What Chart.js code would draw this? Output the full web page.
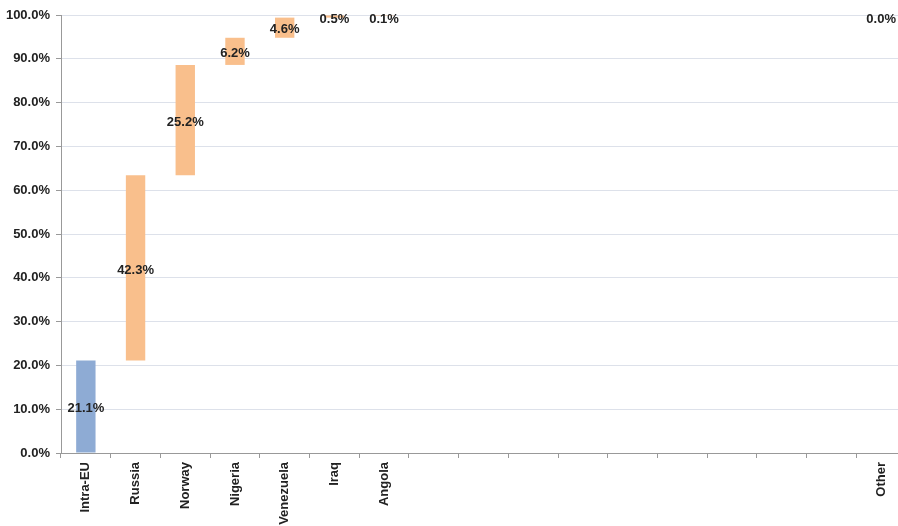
<!DOCTYPE html>
<html>
<head>
<meta charset="utf-8">
<script src="https://cdn.jsdelivr.net/npm/chart.js@4/dist/chart.umd.min.js"></script>
<style>
  html, body { margin: 0; padding: 0; background: #fff; overflow: hidden; }
  #wrap { width: 898px; height: 526px; overflow: hidden; }
</style>
</head>
<body>
<div id="wrap"><canvas id="chart" width="906" height="526"></canvas></div>
<script>
// supplier shares (%), waterfall to 100%
const categories = ['Intra-EU', 'Russia', 'Norway', 'Nigeria', 'Venezuela', 'Iraq', 'Angola',
  '', '', '', '', '', '', '', '', '', 'Other'];
const shares = [21.1, 42.3, 25.2, 6.2, 4.6, 0.5, 0.1,
  null, null, null, null, null, null, null, null, null, 0.0];
const yTicks = [0, 10, 20, 30, 40, 50, 60, 70, 80, 90, 100];

const blue = '#8eabd4';
const orange = '#f9bf8c';

// floating bars: each one starts where the previous one ended
let running = 0;
const floating = shares.map(v => {
  if (v === null) return null;
  const seg = [running, running + v];
  running += v;
  return seg;
});
const colors = shares.map((v, i) => i === 0 ? blue : orange);

const fontFamily = '"Liberation Sans", Arial, sans-serif';

const barLabels = {
  id: 'barLabels',
  afterDatasetsDraw(chart) {
    const ctx = chart.ctx;
    const meta = chart.getDatasetMeta(0);
    ctx.save();
    ctx.font = 'bold 13px ' + fontFamily;
    ctx.fillStyle = '#222';
    ctx.textAlign = 'center';
    ctx.textBaseline = 'middle';
    meta.data.forEach((bar, i) => {
      if (shares[i] === null) return;
      const yMid = (bar.y + bar.base) / 2;
      ctx.fillText(shares[i].toFixed(1) + '%', bar.x, Math.max(yMid + 2, 19));
    });
    ctx.restore();
  }
};

new Chart(document.getElementById('chart').getContext('2d'), {
  type: 'bar',
  data: {
    labels: categories,
    datasets: [{
      data: floating,
      backgroundColor: colors,
      borderWidth: 0,
      categoryPercentage: 1,
      barPercentage: 0.39
    }]
  },
  options: {
    responsive: false,
    animation: false,
    layout: { padding: { top: 15, right: 0, left: 0, bottom: 0 } },
    plugins: {
      legend: { display: false },
      tooltip: { enabled: false }
    },
    scales: {
      x: {
        afterFit(scale) { scale.height = 73; },
        grid: {
          drawOnChartArea: false,
          drawTicks: true,
          tickLength: 5,
          tickColor: '#999',
          offset: true
        },
        border: { color: '#999', width: 1 },
        ticks: {
          autoSkip: false,
          maxRotation: 90,
          minRotation: 90,
          padding: 4,
          color: '#222',
          font: { family: fontFamily, size: 13, weight: 'bold' }
        }
      },
      y: {
        min: 0,
        max: 100,
        afterFit(scale) { scale.width = 61; },
        afterBuildTicks(scale) { scale.ticks = yTicks.map(v => ({ value: v })); },
        grid: {
          color: '#dde1ea',
          drawTicks: true,
          tickLength: 5,
          tickColor: '#999'
        },
        border: { color: '#999', width: 1 },
        ticks: {
          padding: 6,
          color: '#222',
          font: { family: fontFamily, size: 13, weight: 'bold' },
          callback: v => v.toFixed(1) + '%'
        }
      }
    }
  },
  plugins: [barLabels]
});
</script>
</body>
</html>
